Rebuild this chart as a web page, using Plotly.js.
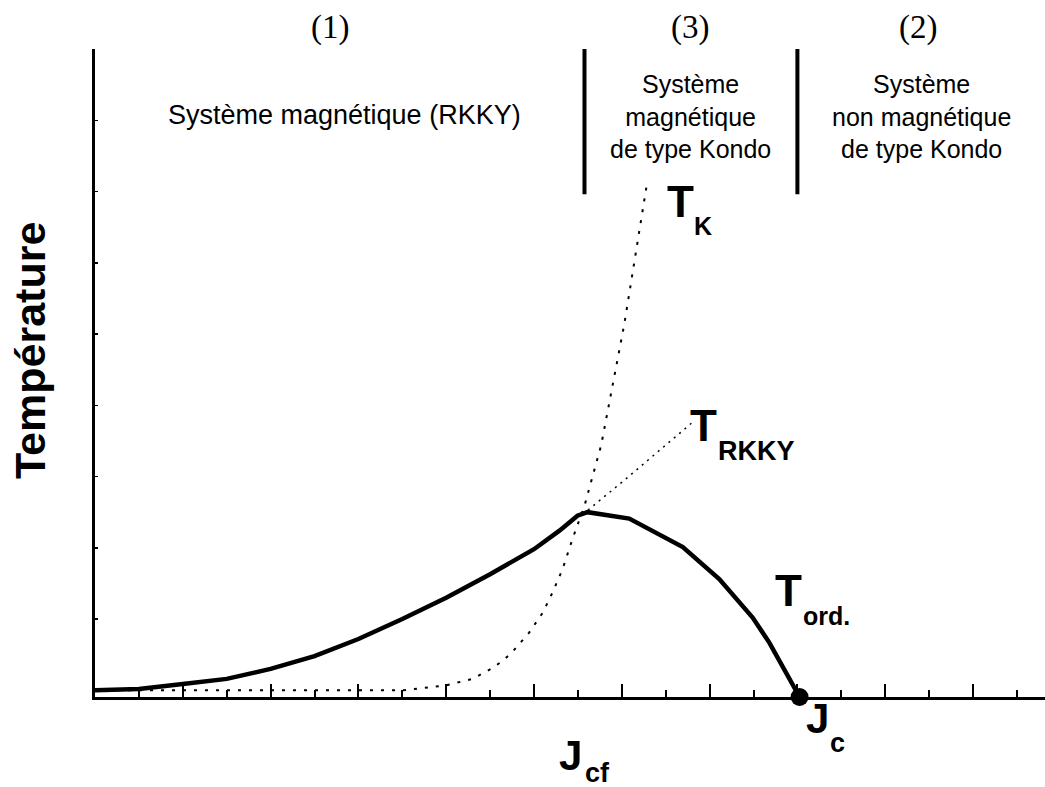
<!DOCTYPE html>
<html>
<head>
<meta charset="utf-8">
<script src="https://cdn.plot.ly/plotly-3.0.1.min.js"></script>
<style>html,body{margin:0;padding:0;background:#fff;}#chart{width:1045px;height:787px;}</style>
</head>
<body>
<div id="chart"></div>
<script>
// Ordering temperature T_ord (solid curve) vs J
const jOrd = [0, 1, 2, 3, 4, 5, 6, 7, 8, 9, 10, 10.58, 10.99, 11.22, 12.17, 13.39, 14.22, 14.98, 15.36, 16.05];
const tOrd = [0.0, 0.02, 0.09, 0.16, 0.30, 0.48, 0.72, 1.00, 1.30, 1.63, 1.98, 2.24, 2.45, 2.50, 2.41, 2.01, 1.56, 1.02, 0.67, -0.094];
// Kondo temperature T_K (dotted)
const jK = [0, 4, 7, 8, 8.6, 9.02, 9.28, 9.51, 9.70, 9.89, 10.2, 10.42, 10.65, 10.88, 11.15, 11.53, 12.06, 12.57];
const tK = [0, 0, 0, 0.07, 0.16, 0.30, 0.41, 0.54, 0.67, 0.81, 1.09, 1.37, 1.70, 2.13, 2.59, 3.44, 5.15, 7.10];
// RKKY temperature (fine dotted)
const jRKKY = [11.23, 12.10, 13.59];
const tRKKY = [2.53, 2.97, 3.75];
// Critical point J_c
const jC = [16.05];
const tC = [-0.094];
// Region boundaries and labels
const regionBounds = [11.15, 16.0];
const regionNumbers = ["(1)", "(3)", "(2)"];
const regionNames = ["Système magnétique (RKKY)", "Système<br>magnétique<br>de type Kondo", "Système<br>non magnétique<br>de type Kondo"];
const yTitle = "Température";

const xRange = [0, 21.64];
const yRange = [-0.094, 9.0];

const sans = "Liberation Sans, Arial, sans-serif";
const serif = "Liberation Serif, Times New Roman, serif";

const traces = [
  {x: jK, y: tK, mode: 'lines', line: {color: 'black', width: 2, dash: '3px,8px'}, hoverinfo: 'skip', cliponaxis: false},
  {x: jRKKY, y: tRKKY, mode: 'lines', line: {color: 'black', width: 1.5, dash: '2px,5px'}, hoverinfo: 'skip'},
  {x: jOrd, y: tOrd, mode: 'lines', line: {color: 'black', width: 4.5}, cliponaxis: false},
  {x: jC, y: tC, mode: 'markers', marker: {color: 'black', size: 18}, cliponaxis: false}
];

const shapes = regionBounds.map(b => ({
  type: 'line', xref: 'x', yref: 'y', x0: b, x1: b, y0: 6.96, y1: 9.0,
  line: {color: 'black', width: 4}
}));

const numX = [5.35, 13.55, 18.74];
const nameX = [5.68, 13.56, 18.83];
const nameSize = [27, 25, 25];
const annotations = [];
regionNumbers.forEach((t, i) => annotations.push({
  text: t, xref: 'x', yref: 'paper', x: numX[i], y: 1.033, xanchor: 'center', yanchor: 'middle',
  showarrow: false, font: {family: serif, size: 33, color: 'black'}
}));
regionNames.forEach((t, i) => annotations.push({
  text: t, xref: 'x', yref: 'y', x: nameX[i], y: i === 0 ? 8.076 : 8.047, xanchor: 'center', yanchor: 'middle',
  showarrow: false, font: {family: sans, size: nameSize[i], color: 'black'}
}));
function lab(text, x, y, size, anchor, yref) {
  annotations.push({text: '<b>' + text + '</b>', xref: 'x', yref: yref || 'y', x: x, y: y,
    xanchor: anchor || 'center', yanchor: 'middle', showarrow: false,
    font: {family: sans, size: size, color: 'black'}});
}
lab('T', 13.33, 6.853, 44);
lab('K', 13.85, 6.523, 25);
lab('T', 13.87, 3.714, 44);
lab('RKKY', 14.155, 3.353, 27, 'left');
lab('T', 15.80, 1.396, 44);
lab('ord.', 16.09, 1.049, 25, 'left');
lab('J', 16.46, -0.0327, 42, 'center', 'paper');
lab('c', 16.91, -0.0708, 27, 'center', 'paper');
lab('J', 10.84, -0.0899, 42, 'center', 'paper');
lab('cf', 11.11, -0.117, 27, 'left', 'paper');
annotations.push({text: '<b>' + yTitle + '</b>', xref: 'paper', yref: 'paper', x: -0.0684, y: 0.534,
  xanchor: 'center', yanchor: 'middle', textangle: -90, showarrow: false,
  font: {family: sans, size: 43, color: 'black'}});

const layout = {
  width: 1045, height: 787,
  margin: {l: 95, r: 0, t: 49, b: 90, pad: 0},
  paper_bgcolor: 'white', plot_bgcolor: 'white',
  showlegend: false,
  xaxis: {
    range: xRange, showgrid: false, zeroline: false, showline: true, linecolor: 'black', linewidth: 3,
    ticks: 'inside', ticklen: 13, tickwidth: 2, tickcolor: 'black', tick0: 0, dtick: 2, showticklabels: false,
    minor: {ticks: 'inside', ticklen: 7, tickwidth: 2, tickcolor: 'black', dtick: 1, tick0: 0, showgrid: false}
  },
  xaxis2: {
    overlaying: 'x', side: 'top', range: xRange, showgrid: false, zeroline: false, showline: true,
    linecolor: 'black', linewidth: 3, ticks: 'inside', ticklen: 3, tickwidth: 1.5, tickcolor: 'black',
    tick0: 0, dtick: 1, showticklabels: false
  },
  yaxis: {
    range: yRange, showgrid: false, zeroline: false, showline: true, linecolor: 'black', linewidth: 3,
    ticks: 'inside', ticklen: 3, tickwidth: 1.5, tickcolor: 'black', tick0: 0, dtick: 1, showticklabels: false
  },
  shapes: shapes,
  annotations: annotations
};

Plotly.newPlot('chart', traces, layout, {displayModeBar: false, staticPlot: true});
</script>
</body>
</html>
